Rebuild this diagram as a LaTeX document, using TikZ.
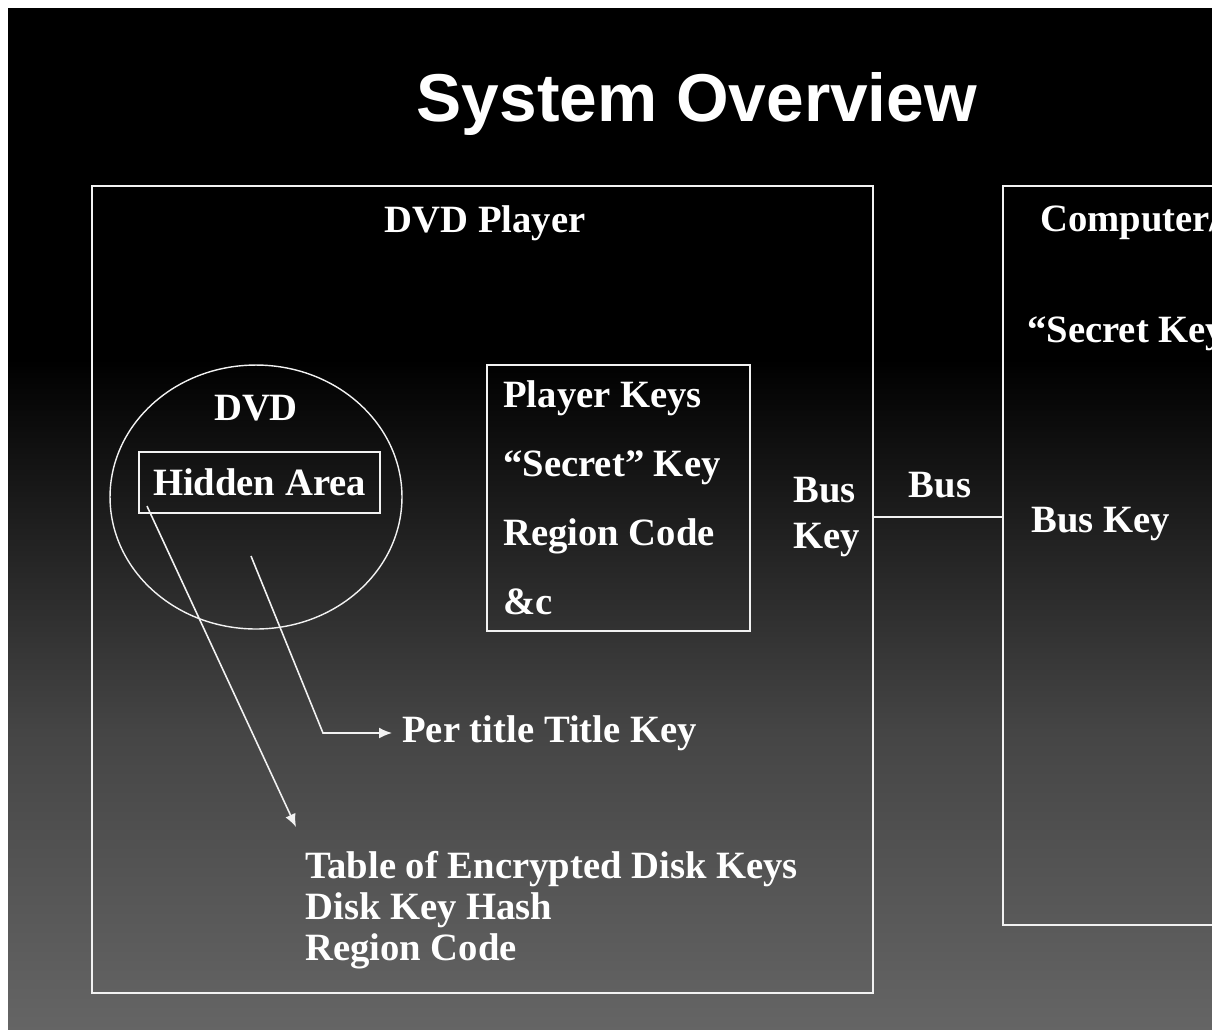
\documentclass[tikz,border=0pt]{standalone}
\usepackage{fontspec}
\setmainfont{Liberation Serif}
\newfontfamily\titlefont{Liberation Sans}
\usetikzlibrary{arrows.meta,positioning,shapes.geometric}
\definecolor{bgbottom}{gray}{0.4}
\definecolor{bgmid}{gray}{0.27}
\definecolor{chalk}{gray}{0.95}
\pgfdeclareverticalshading{slidebg}{100bp}{color(0bp)=(bgbottom); color(25bp)=(bgbottom); color(40bp)=(bgmid); color(58bp)=(black); color(100bp)=(black)}

\begin{document}
\begin{tikzpicture}[x=0.02cm, y=-0.02cm,
    frame/.style={draw=chalk, line width=1.2pt, inner sep=0pt},
    txt/.style={text=white, font=\bfseries\fontsize{22}{26}\selectfont, inner sep=0pt},
    pointer/.style={draw=chalk, line width=0.9pt, -{Latex[length=2.6mm,width=2.2mm]}}]

    % Slide background
    \useasboundingbox (0,0) rectangle (1212,1029);
    \clip (0,0) rectangle (1212,1029);
    \shade[shading=slidebg] (8,8) rectangle (1220,1040);

    % Title
    \node[text=white, font=\titlefont\bfseries\fontsize{38.5}{44}\selectfont, anchor=base] (title) at (697,121) {System Overview};

    % DVD Player
    \node[frame, minimum width=15.62cm, minimum height=16.14cm] (player) at (482.5,589.5) {};
    \node[txt, anchor=base] (playername) at (485,232) {DVD Player};

    % The disk and its hidden area
    \node[ellipse, draw=chalk, line width=0.8pt, minimum width=5.84cm, minimum height=5.28cm] (dvd) at (256,497) {};
    \node[txt, anchor=base] (dvdname) at (256,420) {DVD};
    \node[frame, txt, minimum width=4.82cm, minimum height=1.22cm] (hidden) at (259.5,482.5) {Hidden Area};

    % Keys held by the player
    \node[frame, minimum width=5.26cm, minimum height=5.32cm] (keybox) at (618.5,498) {};
    \foreach \entry [count=\i] in {Player Keys, “Secret” Key, Region Code, \&c}
        \node[txt, anchor=base west] (key\i) at (503, {407+69*(\i-1)}) {\entry};
    \node[txt, anchor=base west] (busname) at (793,502) {Bus};
    \node[txt, anchor=base west] (buskey) at (793,548) {Key};

    % Bus to the computer
    \coordinate (busy) at (940,517);
    \node[frame, minimum width=5.94cm, minimum height=14.78cm] (comp) at (1151.5,555.5) {};
    \draw[chalk, line width=1.2pt] (player.east |- busy) -- (comp.west |- busy);
    \node[txt, anchor=base] (bus) at (940,497) {Bus};
    \node[txt, anchor=base west] (compname) at (1040,231) {Computer/};
    \node[txt, anchor=base west] (compsecret) at (1027,342) {“Secret Key};
    \node[txt, anchor=base west] (compbus) at (1031,532) {Bus Key};

    % Pointers out of the disk
    \node[txt, inner xsep=0.2cm, anchor=west] (titlekey) at (392,733) {Per title Title Key};
    \coordinate (inner) at (251,556);
    \coordinate (bend) at (323,733);
    \draw[pointer] (inner) -- (bend) -- (titlekey.west);
    \coordinate (tablecorner) at (296,827);
    \draw[pointer] ([xshift=0.18cm,yshift=0.16cm]hidden.south west) -- (tablecorner);
    \foreach \entry [count=\i] in {Table of Encrypted Disk Keys, Disk Key Hash, Region Code}
        \node[txt, anchor=base west] (disk\i) at (305, {878+41*(\i-1)}) {\entry};
\end{tikzpicture}
\end{document}
